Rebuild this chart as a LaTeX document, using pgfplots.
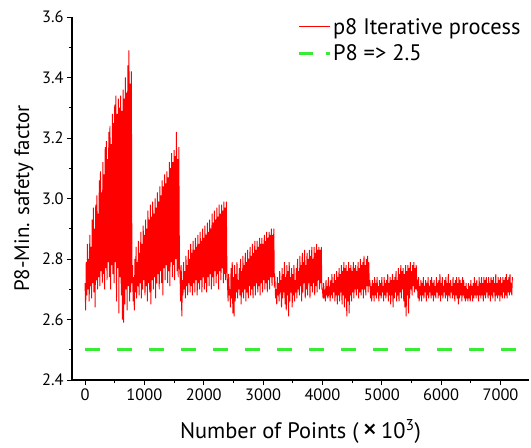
\documentclass[border=0pt]{standalone}
\usepackage{fontspec}
\setmainfont{PT Sans}
\usepackage{pgfplots}
\pgfplotsset{compat=1.18}
\definecolor{myred}{RGB}{255,0,0}
\definecolor{mygreen}{RGB}{55,235,55}
\begin{document}
\begin{tikzpicture}
\begin{axis}[
  scale only axis, width=457bp, height=363bp,
  xmin=-220, xmax=7480, ymin=2.4, ymax=3.6,
  axis lines=left,
  axis line style={-, line width=1.1bp},
  every outer x axis line/.append style={-},
  every outer y axis line/.append style={-},
  tick align=outside,
  major tick length=5bp, minor tick length=3bp,
  tick style={line width=0.9bp, black},
  xtick={0,1000,...,7000},
  ytick={2.4,2.6,...,3.61},
  minor x tick num=1, minor y tick num=1,
  /pgf/number format/assume math mode=true,
  xticklabel style={/pgf/number format/set thousands separator={}, font=\fontsize{16.5}{18}\selectfont},
  yticklabel style={/pgf/number format/fixed, /pgf/number format/fixed zerofill, /pgf/number format/precision=1, font=\fontsize{16.5}{18}\selectfont},
  xlabel={Number of Points (\,\raisebox{-1.5bp}{\fontsize{30}{30}\selectfont ×}\,10\textsuperscript{3})},
  ylabel={P8-Min. safety factor},
  xlabel style={at={(axis description cs:0.5,-0.16)}, anchor=base, font=\fontsize{22.5}{26}\selectfont},
  ylabel style={at={(axis description cs:-0.094,0.5)}, anchor=base, font=\fontsize{21}{25}\selectfont},
  legend style={at={(axis description cs:0.492,1.003)}, anchor=north west, draw=none, fill=none, inner sep=0pt, font=\fontsize{22.5}{26}\selectfont, row sep=5bp},
  legend cell align=left,
  legend image code/.code={\draw[#1] (0bp,0bp) -- (31bp,0bp);},
  clip=false,
]
\addplot[color=myred, line width=0.95bp, forget plot] coordinates {
(0,2.72)(10,2.63)(20,2.79)(30,2.68)(40,2.85)(50,2.70)(60,2.80)(70,2.66)(80,2.88)(90,2.71)
(100,2.84)(110,2.67)(120,2.93)(130,2.72)(140,2.97)(150,2.69)(160,2.90)(170,2.64)(180,2.98)(190,2.73)
(200,3.01)(210,2.70)(220,2.95)(230,2.74)(240,3.06)(250,2.71)(260,3.09)(270,2.76)(280,3.02)(290,2.72)
(300,3.12)(310,2.75)(320,3.08)(330,2.70)(340,3.17)(350,2.77)(360,3.19)(370,2.73)(380,3.13)(390,2.79)
(400,3.22)(410,2.74)(420,3.24)(430,2.70)(440,3.18)(450,2.78)(460,3.28)(470,2.75)(480,3.25)(490,2.72)
(500,3.31)(510,2.79)(520,3.34)(530,2.66)(540,3.28)(550,2.77)(560,3.33)(570,2.62)(580,3.30)(590,2.74)
(600,3.34)(610,2.68)(620,3.29)(630,2.60)(640,3.36)(650,2.59)(660,3.33)(670,2.65)(680,3.40)(690,2.70)
(700,3.35)(710,2.63)(720,3.44)(730,2.71)(740,3.49)(750,2.66)(760,3.38)(770,2.69)(780,3.42)(790,2.72)
(800,2.78)(810,2.66)(820,2.74)(830,2.63)(840,2.80)(850,2.69)(860,2.84)(870,2.67)(880,2.79)(890,2.71)
(900,2.86)(910,2.68)(920,2.82)(930,2.72)(940,2.89)(950,2.67)(960,2.85)(970,2.70)(980,2.91)(990,2.73)
(1000,2.88)(1010,2.68)(1020,2.93)(1030,2.71)(1040,2.90)(1050,2.66)(1060,2.96)(1070,2.72)(1080,2.93)(1090,2.69)
(1100,2.98)(1110,2.65)(1120,2.94)(1130,2.73)(1140,2.99)(1150,2.70)(1160,2.95)(1170,2.74)(1180,3.00)(1190,2.67)
(1200,2.97)(1210,2.72)(1220,3.02)(1230,2.75)(1240,2.99)(1250,2.70)(1260,3.04)(1270,2.76)(1280,3.01)(1290,2.72)
(1300,3.06)(1310,2.68)(1320,3.04)(1330,2.77)(1340,3.08)(1350,2.73)(1360,3.05)(1370,2.78)(1380,3.09)(1390,2.72)
(1400,3.07)(1410,2.76)(1420,3.12)(1430,2.71)(1440,3.10)(1450,2.79)(1460,3.15)(1470,2.74)(1480,3.12)(1490,2.78)
(1500,3.16)(1510,2.73)(1520,3.14)(1530,2.80)(1540,3.22)(1550,2.76)(1560,3.13)(1570,2.74)(1580,3.17)(1590,2.78)
(1600,2.75)(1610,2.66)(1620,2.78)(1630,2.61)(1640,2.73)(1650,2.68)(1660,2.79)(1670,2.70)(1680,2.76)(1690,2.67)
(1700,2.81)(1710,2.71)(1720,2.78)(1730,2.68)(1740,2.83)(1750,2.72)(1760,2.80)(1770,2.69)(1780,2.85)(1790,2.71)
(1800,2.82)(1810,2.68)(1820,2.86)(1830,2.72)(1840,2.83)(1850,2.69)(1860,2.87)(1870,2.73)(1880,2.84)(1890,2.68)
(1900,2.88)(1910,2.72)(1920,2.85)(1930,2.70)(1940,2.89)(1950,2.73)(1960,2.86)(1970,2.69)(1980,2.90)(1990,2.74)
(2000,2.87)(2010,2.70)(2020,2.91)(2030,2.72)(2040,2.88)(2050,2.69)(2060,2.92)(2070,2.74)(2080,2.89)(2090,2.71)
(2100,2.93)(2110,2.75)(2120,2.90)(2130,2.70)(2140,2.95)(2150,2.74)(2160,2.92)(2170,2.71)(2180,2.96)(2190,2.76)
(2200,2.93)(2210,2.72)(2220,2.97)(2230,2.75)(2240,2.94)(2250,2.70)(2260,2.98)(2270,2.76)(2280,2.95)(2290,2.73)
(2300,2.98)(2310,2.77)(2320,2.96)(2330,2.72)(2340,2.99)(2350,2.75)(2360,2.97)(2370,2.73)(2380,2.99)(2390,2.76)
(2400,2.72)(2410,2.66)(2420,2.75)(2430,2.68)(2440,2.70)(2450,2.64)(2460,2.77)(2470,2.67)(2480,2.79)(2490,2.62)
(2500,2.74)(2510,2.61)(2520,2.78)(2530,2.66)(2540,2.75)(2550,2.69)(2560,2.79)(2570,2.67)(2580,2.73)(2590,2.70)
(2600,2.77)(2610,2.68)(2620,2.80)(2630,2.65)(2640,2.76)(2650,2.69)(2660,2.81)(2670,2.67)(2680,2.78)(2690,2.70)
(2700,2.82)(2710,2.66)(2720,2.79)(2730,2.69)(2740,2.83)(2750,2.67)(2760,2.80)(2770,2.71)(2780,2.84)(2790,2.68)
(2800,2.81)(2810,2.70)(2820,2.85)(2830,2.67)(2840,2.82)(2850,2.71)(2860,2.86)(2870,2.68)(2880,2.83)(2890,2.72)
(2900,2.86)(2910,2.69)(2920,2.84)(2930,2.71)(2940,2.87)(2950,2.68)(2960,2.85)(2970,2.72)(2980,2.87)(2990,2.69)
(3000,2.85)(3010,2.73)(3020,2.88)(3030,2.70)(3040,2.86)(3050,2.72)(3060,2.89)(3070,2.69)(3080,2.87)(3090,2.73)
(3100,2.89)(3110,2.70)(3120,2.88)(3130,2.74)(3140,2.90)(3150,2.71)(3160,2.88)(3170,2.74)(3180,2.90)(3190,2.72)
(3200,2.73)(3210,2.67)(3220,2.70)(3230,2.65)(3240,2.74)(3250,2.68)(3260,2.72)(3270,2.66)(3280,2.76)(3290,2.69)
(3300,2.73)(3310,2.64)(3320,2.77)(3330,2.67)(3340,2.75)(3350,2.69)(3360,2.79)(3370,2.65)(3380,2.74)(3390,2.63)
(3400,2.78)(3410,2.68)(3420,2.76)(3430,2.61)(3440,2.79)(3450,2.66)(3460,2.74)(3470,2.69)(3480,2.77)(3490,2.64)
(3500,2.75)(3510,2.68)(3520,2.78)(3530,2.66)(3540,2.73)(3550,2.69)(3560,2.77)(3570,2.67)(3580,2.80)(3590,2.70)
(3600,2.76)(3610,2.68)(3620,2.81)(3630,2.71)(3640,2.78)(3650,2.66)(3660,2.82)(3670,2.69)(3680,2.79)(3690,2.72)
(3700,2.83)(3710,2.67)(3720,2.78)(3730,2.70)(3740,2.82)(3750,2.68)(3760,2.80)(3770,2.72)(3780,2.83)(3790,2.67)
(3800,2.81)(3810,2.71)(3820,2.84)(3830,2.69)(3840,2.80)(3850,2.72)(3860,2.84)(3870,2.68)(3880,2.82)(3890,2.71)
(3900,2.85)(3910,2.69)(3920,2.83)(3930,2.73)(3940,2.84)(3950,2.70)(3960,2.83)(3970,2.72)(3980,2.84)(3990,2.70)
(4000,2.70)(4010,2.67)(4020,2.72)(4030,2.68)(4040,2.69)(4050,2.66)(4060,2.73)(4070,2.68)(4080,2.71)(4090,2.67)
(4100,2.74)(4110,2.69)(4120,2.70)(4130,2.66)(4140,2.73)(4150,2.68)(4160,2.75)(4170,2.67)(4180,2.72)(4190,2.69)
(4200,2.75)(4210,2.66)(4220,2.73)(4230,2.68)(4240,2.76)(4250,2.65)(4260,2.74)(4270,2.68)(4280,2.77)(4290,2.66)
(4300,2.75)(4310,2.69)(4320,2.78)(4330,2.65)(4340,2.76)(4350,2.68)(4360,2.79)(4370,2.64)(4380,2.77)(4390,2.67)
(4400,2.78)(4410,2.61)(4420,2.76)(4430,2.66)(4440,2.79)(4450,2.62)(4460,2.77)(4470,2.68)(4480,2.78)(4490,2.66)
(4500,2.76)(4510,2.69)(4520,2.79)(4530,2.67)(4540,2.77)(4550,2.70)(4560,2.78)(4570,2.68)(4580,2.76)(4590,2.70)
(4600,2.79)(4610,2.67)(4620,2.77)(4630,2.69)(4640,2.80)(4650,2.68)(4660,2.78)(4670,2.70)(4680,2.79)(4690,2.67)
(4700,2.81)(4710,2.70)(4720,2.78)(4730,2.68)(4740,2.80)(4750,2.71)(4760,2.81)(4770,2.69)(4780,2.79)(4790,2.71)
(4800,2.73)(4810,2.67)(4820,2.71)(4830,2.66)(4840,2.73)(4850,2.68)(4860,2.72)(4870,2.66)(4880,2.74)(4890,2.68)
(4900,2.72)(4910,2.67)(4920,2.74)(4930,2.69)(4940,2.71)(4950,2.66)(4960,2.73)(4970,2.68)(4980,2.72)(4990,2.67)
(5000,2.74)(5010,2.69)(5020,2.71)(5030,2.66)(5040,2.74)(5050,2.68)(5060,2.72)(5070,2.67)(5080,2.73)(5090,2.69)
(5100,2.75)(5110,2.66)(5120,2.72)(5130,2.68)(5140,2.74)(5150,2.65)(5160,2.73)(5170,2.68)(5180,2.75)(5190,2.64)
(5200,2.73)(5210,2.67)(5220,2.74)(5230,2.69)(5240,2.76)(5250,2.66)(5260,2.73)(5270,2.68)(5280,2.77)(5290,2.66)
(5300,2.75)(5310,2.69)(5320,2.78)(5330,2.67)(5340,2.76)(5350,2.70)(5360,2.77)(5370,2.66)(5380,2.75)(5390,2.64)
(5400,2.78)(5410,2.61)(5420,2.76)(5430,2.68)(5440,2.78)(5450,2.62)(5460,2.77)(5470,2.67)(5480,2.79)(5490,2.70)
(5500,2.76)(5510,2.68)(5520,2.78)(5530,2.71)(5540,2.79)(5550,2.69)(5560,2.77)(5570,2.70)(5580,2.78)(5590,2.71)
(5600,2.72)(5610,2.67)(5620,2.74)(5630,2.66)(5640,2.71)(5650,2.68)(5660,2.73)(5670,2.66)(5680,2.72)(5690,2.68)
(5700,2.74)(5710,2.67)(5720,2.71)(5730,2.69)(5740,2.73)(5750,2.66)(5760,2.72)(5770,2.68)(5780,2.74)(5790,2.67)
(5800,2.71)(5810,2.69)(5820,2.73)(5830,2.67)(5840,2.74)(5850,2.68)(5860,2.72)(5870,2.66)(5880,2.73)(5890,2.68)
(5900,2.71)(5910,2.67)(5920,2.74)(5930,2.69)(5940,2.72)(5950,2.67)(5960,2.73)(5970,2.68)(5980,2.75)(5990,2.66)
(6000,2.72)(6010,2.68)(6020,2.74)(6030,2.67)(6040,2.71)(6050,2.69)(6060,2.73)(6070,2.67)(6080,2.74)(6090,2.68)
(6100,2.72)(6110,2.66)(6120,2.75)(6130,2.68)(6140,2.72)(6150,2.67)(6160,2.73)(6170,2.69)(6180,2.71)(6190,2.67)
(6200,2.74)(6210,2.68)(6220,2.72)(6230,2.66)(6240,2.73)(6250,2.68)(6260,2.74)(6270,2.67)(6280,2.72)(6290,2.65)
(6300,2.74)(6310,2.67)(6320,2.73)(6330,2.68)(6340,2.72)(6350,2.66)(6360,2.74)(6370,2.68)(6380,2.73)(6390,2.67)
(6400,2.71)(6410,2.66)(6420,2.72)(6430,2.67)(6440,2.70)(6450,2.66)(6460,2.72)(6470,2.67)(6480,2.71)(6490,2.66)
(6500,2.73)(6510,2.68)(6520,2.71)(6530,2.66)(6540,2.72)(6550,2.67)(6560,2.74)(6570,2.68)(6580,2.72)(6590,2.67)
(6600,2.73)(6610,2.68)(6620,2.71)(6630,2.66)(6640,2.74)(6650,2.68)(6660,2.72)(6670,2.67)(6680,2.74)(6690,2.68)
(6700,2.72)(6710,2.66)(6720,2.74)(6730,2.68)(6740,2.73)(6750,2.67)(6760,2.74)(6770,2.69)(6780,2.72)(6790,2.67)
(6800,2.74)(6810,2.68)(6820,2.72)(6830,2.66)(6840,2.74)(6850,2.68)(6860,2.73)(6870,2.67)(6880,2.74)(6890,2.69)
(6900,2.72)(6910,2.66)(6920,2.75)(6930,2.68)(6940,2.72)(6950,2.67)(6960,2.74)(6970,2.68)(6980,2.73)(6990,2.66)
(7000,2.74)(7010,2.68)(7020,2.72)(7030,2.67)(7040,2.74)(7050,2.69)(7060,2.73)(7070,2.67)(7080,2.74)(7090,2.68)
(7100,2.75)(7110,2.67)(7120,2.73)(7130,2.69)(7140,2.74)(7150,2.68)(7160,2.75)(7170,2.69)(7180,2.72)(7190,2.68)
(7200,2.74)
};
\addlegendimage{color=myred, line width=1.3bp}
\addlegendentry{p8 Iterative process}
\addplot[mygreen, line width=3bp, dash pattern=on 15bp off 17bp, forget plot] coordinates {(0,2.5)(7260,2.5)};
\addlegendimage{mygreen, line width=3bp, dash pattern=on 14bp off 13bp}
\addlegendentry{P8 => 2.5}
\end{axis}
\pgfresetboundingbox
\path[use as bounding box] (current axis.south west) ++(-72bp,-68bp) rectangle ++(531bp,448bp);
\end{tikzpicture}
\end{document}
